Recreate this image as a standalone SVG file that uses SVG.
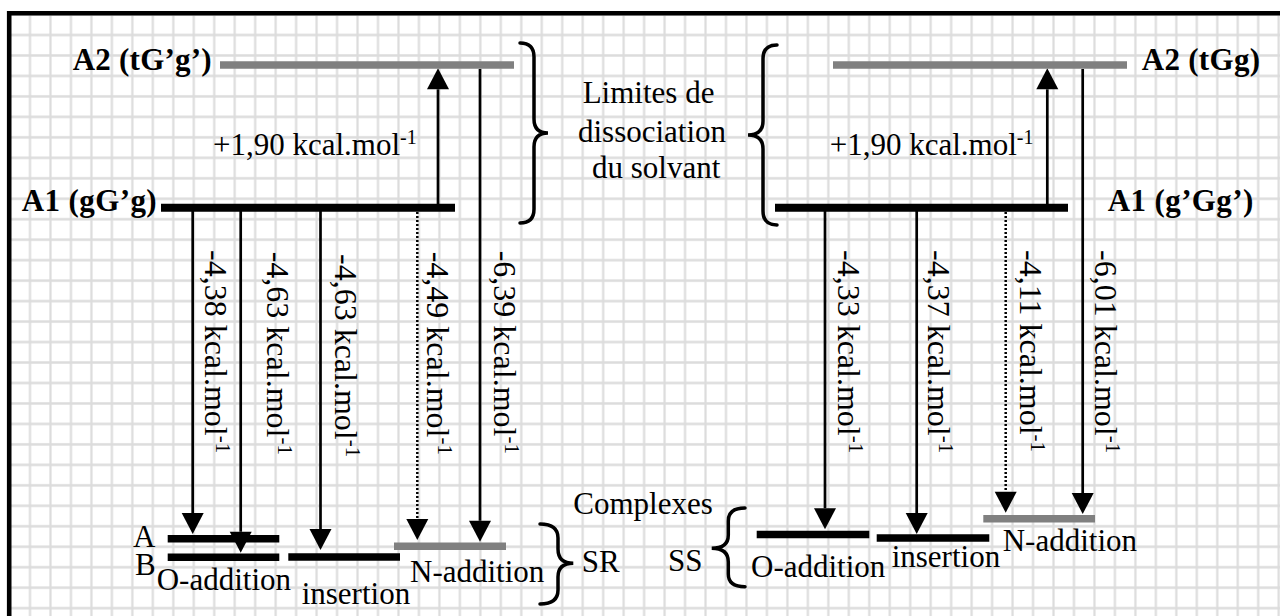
<svg xmlns="http://www.w3.org/2000/svg" width="1280" height="616" viewBox="0 0 1280 616">
<defs>
<pattern id="grid" patternUnits="userSpaceOnUse" x="19.77" y="24.77" width="20.47" height="20.47">
<path d="M10.235 0V20.47M0 10.235H20.47" stroke="#dcdcdc" stroke-width="2.2" fill="none"/>
</pattern>
<marker id="ah" markerUnits="userSpaceOnUse" markerWidth="22" markerHeight="22" viewBox="0 -11 21 22" refX="0" refY="0" orient="auto" overflow="visible">
<path d="M0,-11 L21,0 L0,11Z" fill="#000"/>
</marker>
<style>
text{font-family:"Liberation Serif","Times New Roman",serif;font-size:31px;fill:#000}
.b{font-weight:bold}
.sup{font-size:20px}
.rot{font-size:32px}
.rot .sup{font-size:21px}
.arr{stroke:#000;stroke-width:2.7;fill:none;marker-end:url(#ah)}
.dot{stroke-dasharray:2 2;stroke-width:2.5}
.lvl{stroke:#000;stroke-width:8;fill:none}
.lvs{stroke:#000;stroke-width:7.5;fill:none}
.gry{stroke:#808080;stroke-width:7.5;fill:none}
.brace{stroke:#000;stroke-width:3.5;fill:none;stroke-linecap:round}
</style>
</defs>
<rect x="0" y="0" width="1280" height="616" fill="#fff"/>
<rect x="11" y="15" width="1269" height="601" fill="url(#grid)"/>
<path d="M9.2 616V13.2H1280" stroke="#000" stroke-width="4.6" fill="none"/>

<g id="connectors">
<path class="arr" d="M192.7 208V513"/>
<path class="arr" d="M240.7 208V531.7"/>
<path class="arr" d="M320.5 208V529"/>
<path class="arr dot" d="M417.3 208V519"/>
<path class="arr" d="M480 69V520.7"/>
<path class="arr" d="M438 208V89.3"/>
<path class="arr" d="M825 208V508.3"/>
<path class="arr" d="M916.7 208V513"/>
<path class="arr dot" d="M1005.7 208V491.7"/>
<path class="arr" d="M1082.7 69V493"/>
<path class="arr" d="M1047.3 208V89.3"/>
</g>

<g id="A2-left">
<line class="gry" x1="220" y1="65" x2="514" y2="65"/>
<text class="b" x="72.7" y="70" textLength="139">A2 (tG’g’)</text>
</g>
<g id="A1-left">
<line class="lvl" x1="161" y1="207.8" x2="455" y2="207.8"/>
<text class="b" x="21.7" y="210.7" textLength="135">A1 (gG’g)</text>
</g>
<g id="A2-right">
<line class="gry" x1="833" y1="65" x2="1127" y2="65"/>
<text class="b" x="1141.7" y="70" textLength="118.3">A2 (tGg)</text>
</g>
<g id="A1-right">
<line class="lvl" x1="775" y1="207.8" x2="1068" y2="207.8"/>
<text class="b" x="1107.7" y="210.7" textLength="145.6">A1 (g’Gg’)</text>
</g>

<g id="label-up-left"><text x="213" y="155">+1,90 kcal.mol<tspan class="sup" dy="-11">-1</tspan></text></g>
<g id="label-up-right"><text x="829.7" y="155">+1,90 kcal.mol<tspan class="sup" dy="-11">-1</tspan></text></g>

<g id="dissociation">
<path class="brace" d="M520 43Q534 43 534 57V119Q534 133 548 133Q534 133 534 147V209Q534 223 520 223"/>
<path class="brace" d="M777 45Q763 45 763 59V121Q763 135 748 135Q763 135 763 149V211Q763 225 777 225"/>
<text x="582.7" y="103.3">Limites de</text>
<text x="578" y="141.7">dissociation</text>
<text x="592" y="178.3">du solvant</text>
</g>

<g id="rot-labels" class="rot">
<text class="rot" transform="translate(205,250) rotate(90)">-4,38 kcal.mol<tspan class="sup" dy="-11">-1</tspan></text>
<text class="rot" transform="translate(266.7,251.7) rotate(90)">-4,63 kcal.mol<tspan class="sup" dy="-11">-1</tspan></text>
<text class="rot" transform="translate(335,254) rotate(90)">-4,63 kcal.mol<tspan class="sup" dy="-11">-1</tspan></text>
<text class="rot" transform="translate(427.3,251.7) rotate(90)">-4,49 kcal.mol<tspan class="sup" dy="-11">-1</tspan></text>
<text class="rot" transform="translate(494,250.7) rotate(90)">-6,39 kcal.mol<tspan class="sup" dy="-11">-1</tspan></text>
<text class="rot" transform="translate(838,250) rotate(90)">-4,33 kcal.mol<tspan class="sup" dy="-11">-1</tspan></text>
<text class="rot" transform="translate(928.3,250) rotate(90)">-4,37 kcal.mol<tspan class="sup" dy="-11">-1</tspan></text>
<text class="rot" transform="translate(1020,250) rotate(90)">-4,11 kcal.mol<tspan class="sup" dy="-11">-1</tspan></text>
<text class="rot" transform="translate(1094.5,250) rotate(90)">-6,01 kcal.mol<tspan class="sup" dy="-11">-1</tspan></text>
</g>

<g id="SR-O-addition">
<line class="lvs" x1="167.7" y1="538.7" x2="279.3" y2="538.7"/>
<line class="lvs" x1="167.7" y1="557.3" x2="279.3" y2="557.3"/>
<text x="133" y="546.7">A</text>
<text x="135" y="575">B</text>
<text x="156.7" y="590">O-addition</text>
</g>
<g id="SR-insertion">
<line class="lvs" x1="288.3" y1="557" x2="400" y2="557"/>
<text x="301.7" y="604">insertion</text>
</g>
<g id="SR-N-addition">
<line class="gry" x1="394" y1="546.2" x2="506" y2="546.2"/>
<text x="410" y="581.7">N-addition</text>
</g>
<g id="SR-group">
<path class="brace" d="M540 524Q558 524 558 538V549Q558 563.3 573.3 563.3Q558 563.3 558 577V590Q558 604 540 604"/>
<text x="581.7" y="571.7">SR</text>
</g>
<g id="complexes"><text x="573.3" y="514">Complexes</text></g>
<g id="SS-group">
<path class="brace" d="M745 508Q728.3 508 728.3 521V535Q728.3 548.3 711.7 548.3Q728.3 548.3 728.3 562V574Q728.3 586.7 745 586.7"/>
<text x="668" y="570.7">SS</text>
</g>
<g id="SS-O-addition">
<line class="lvs" x1="756.7" y1="534.5" x2="869.3" y2="534.5"/>
<text x="751" y="576.7">O-addition</text>
</g>
<g id="SS-insertion">
<line class="lvs" x1="876.7" y1="538" x2="989.3" y2="538"/>
<text x="891.7" y="566.7">insertion</text>
</g>
<g id="SS-N-addition">
<line class="gry" x1="983.3" y1="518.7" x2="1095" y2="518.7"/>
<text x="1002.7" y="551">N-addition</text>
</g>
</svg>
